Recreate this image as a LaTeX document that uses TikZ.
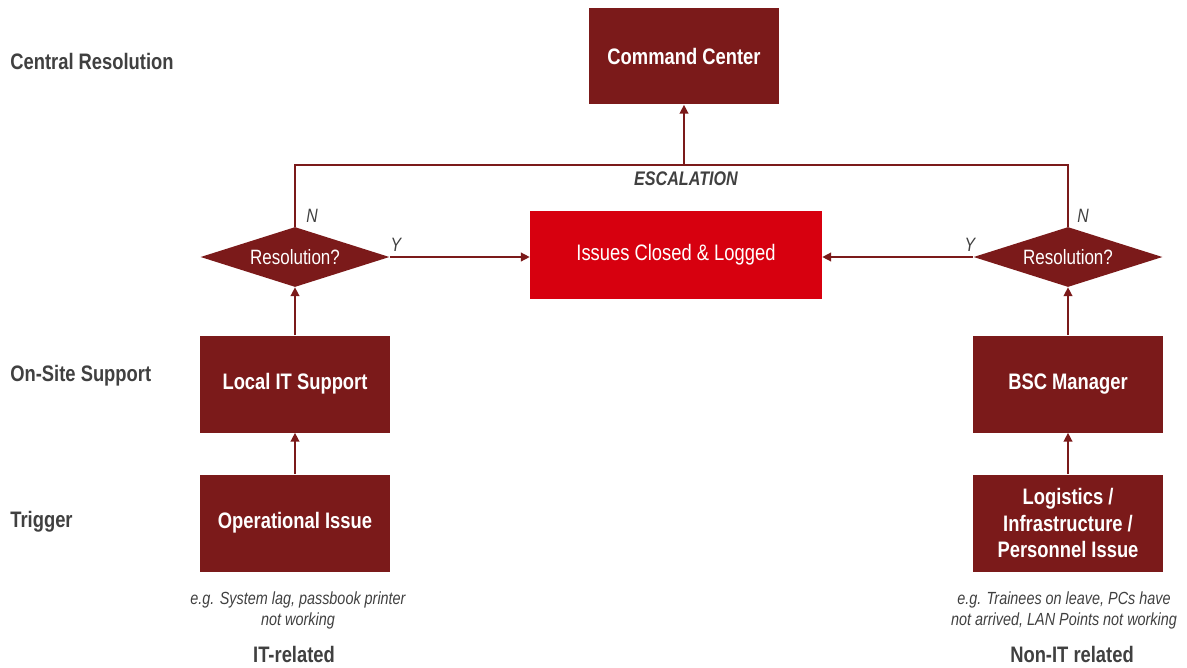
\documentclass[tikz,border=0pt]{standalone}
\usepackage{fontspec}
\setmainfont{Liberation Sans}[FakeStretch=0.82]
\usetikzlibrary{shapes.geometric,arrows.meta}
\definecolor{maroon}{RGB}{123,26,26}
\definecolor{signal}{RGB}{215,0,15}
\definecolor{ink}{RGB}{64,64,64}

\begin{document}
\begin{tikzpicture}[x=0.02cm,y=-0.02cm,
  box/.style={fill=maroon,text=white,font=\fontsize{12.75}{15}\selectfont\bfseries,
    minimum width=3.8cm,minimum height=1.94cm,align=center,inner sep=2pt},
  closed/.style={fill=signal,text=white,font=\fontsize{12.75}{15}\selectfont,
    minimum width=5.84cm,minimum height=1.78cm},
  decide/.style={diamond,aspect=3.15,fill=maroon,text=white,font=\fontsize{11.8}{13}\selectfont,
    minimum width=3.78cm,minimum height=1.2cm,inner sep=0pt},
  tier/.style={anchor=west,inner sep=0pt,text=ink,font=\fontsize{12.75}{15}\selectfont\bfseries},
  yn/.style={text=ink,font=\fontsize{11}{13}\selectfont\itshape},
  note/.style={text=ink,font=\fontsize{10}{12}\selectfont\itshape,align=center},
  kind/.style={inner sep=0pt,text=ink,font=\fontsize{12.75}{15}\selectfont\bfseries},
  flow/.style={draw=maroon,line width=0.8pt,-{Triangle[length=5pt,width=5pt]}}]
\useasboundingbox (0,0) rectangle (1187,667);

\node[tier] (central) at (10,61) {Central Resolution};
\node[tier] (onsite) at (10,376) {On-Site Support};
\node[tier] (trigger) at (10,522) {Trigger};

\node[box] (cc) at (684,56) {Command Center};
\node[closed] (logged) at (676,255) {Issues Closed \& Logged};

\node[decide] (dl) at (295,257) {Resolution?};
\node[box] (itsup) at (295,384) {Local IT Support};
\node[box] (opiss) at (295,523) {Operational Issue};

\node[decide] (dr) at (1068,257) {Resolution?};
\node[box] (bsc) at (1068,384) {BSC Manager};
\node[box] (logis) at (1068,523) {Logistics /\\Infrastructure /\\Personnel Issue};

\draw[flow] (opiss) -- (itsup);
\draw[flow] (itsup) -- (dl);
\draw[flow] (logis) -- (bsc);
\draw[flow] (bsc) -- (dr);

\coordinate (esc) at (684,165);
\draw[draw=maroon,line width=0.8pt] (dl.north) |- (esc) -| (dr.north);
\draw[flow] (esc) -- (cc);
\node[yn,font=\fontsize{11.2}{13}\selectfont\bfseries\itshape] (esclab) at (686,179) {ESCALATION};

\draw[flow] (dl.east) -- (logged.west |- dl.east);
\draw[flow] (dr.west) -- (logged.east |- dr.west);
\node[yn] (yl) at (396,245) {Y};
\node[yn] (yr) at (970,245) {Y};
\node[yn] (nl) at (312,216) {N};
\node[yn] (nr) at (1083,216) {N};

\node[note] (exl) at (298,610) {e.g. System lag, passbook printer\\not working};
\node[kind] (itrel) at (294,654) {IT-related};
\node[note] (exr) at (1064,610) {e.g. Trainees on leave, PCs have\\not arrived, LAN Points not working};
\node[kind] (nonit) at (1072,654) {Non-IT related};
\end{tikzpicture}
\end{document}
